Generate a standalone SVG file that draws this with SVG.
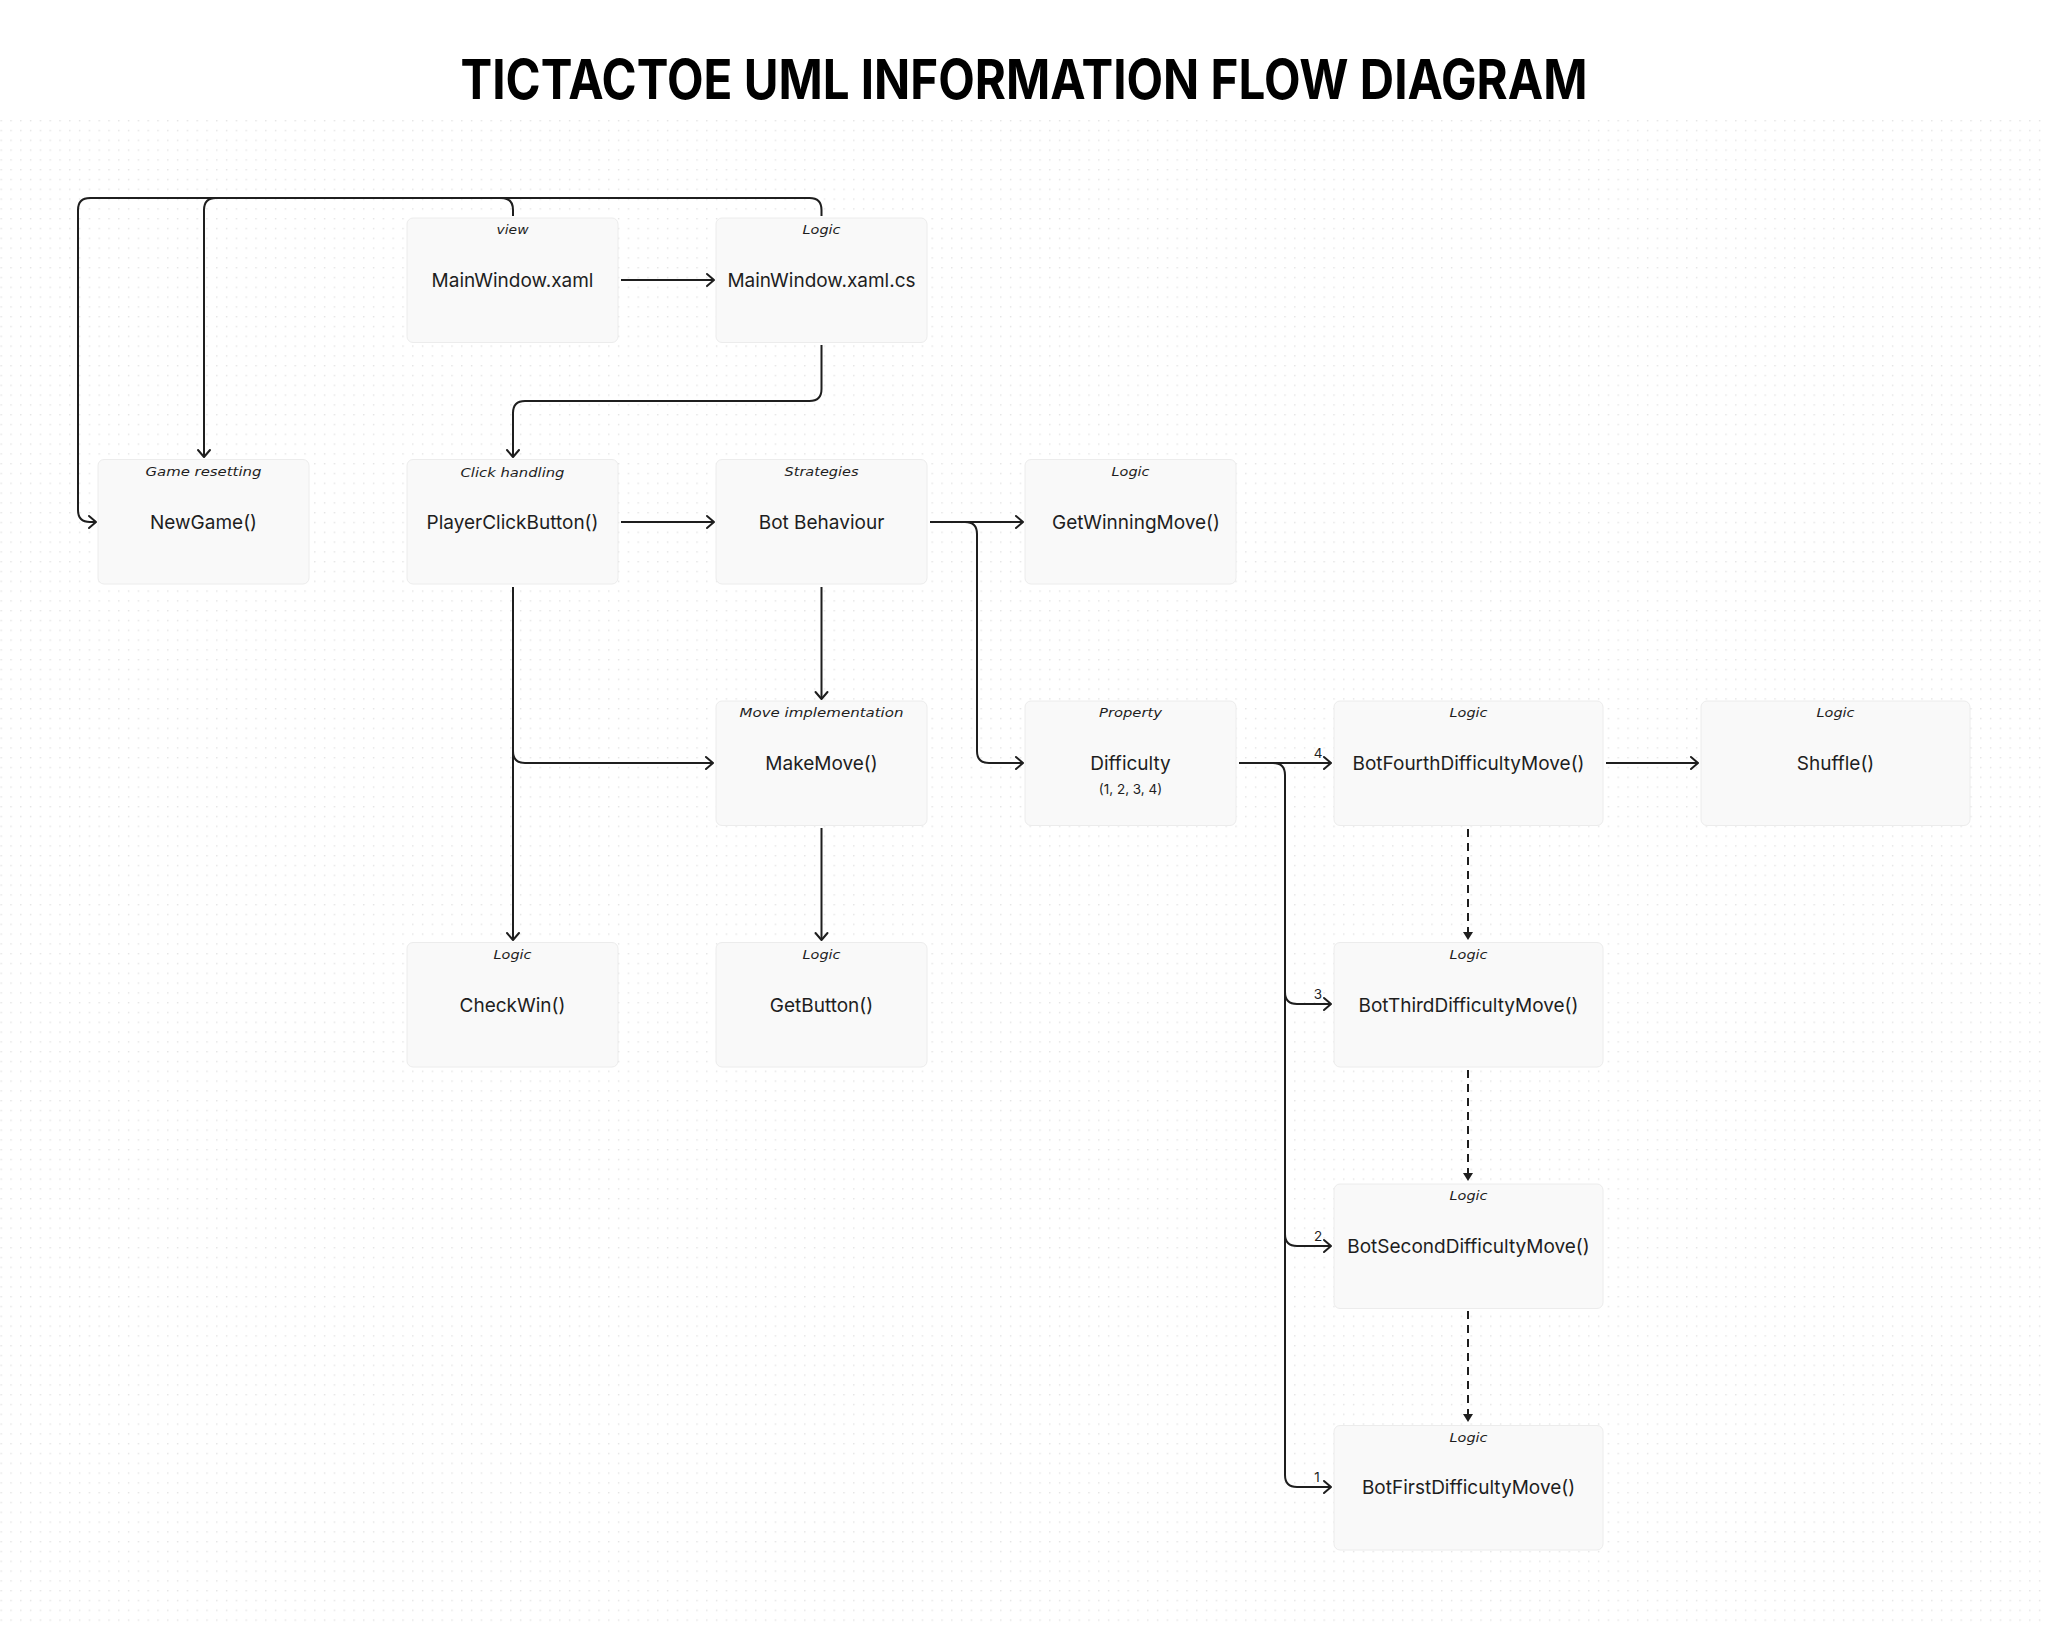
<svg xmlns="http://www.w3.org/2000/svg" width="2048" height="1628" viewBox="0 0 2048 1628">
<defs>
<pattern id="dots" x="0.5" y="120" width="9.8" height="9.8" patternUnits="userSpaceOnUse">
<rect x="0" y="0" width="1.4" height="1.4" fill="#e3e3e3"/>
</pattern>
<marker id="open" markerUnits="userSpaceOnUse" viewBox="-9 -8 11 16" refX="0" refY="0" markerWidth="11" markerHeight="16" orient="auto">
<path d="M -7 -6 L 0 0 L -7 6" fill="none" stroke="#1e1e1e" stroke-width="2" stroke-linecap="round" stroke-linejoin="round"/>
</marker>
<marker id="tri" markerUnits="userSpaceOnUse" viewBox="-9 -6 10 12" refX="0" refY="0" markerWidth="10" markerHeight="12" orient="auto">
<path d="M -8 -5 L 0 0 L -8 5 Z" fill="#1e1e1e"/>
</marker>
</defs>
<style>
.box{fill:#f9f9f9;stroke:#ececec;stroke-width:1}
.main{font-family:Inter,"Liberation Sans",sans-serif;font-size:19px;fill:#1e1e1e;text-anchor:middle}
.tag{font-family:"DejaVu Sans","Liberation Sans",sans-serif;font-style:italic;font-size:13px;fill:#1e1e1e;text-anchor:middle}
.sub{font-family:Inter,"Liberation Sans",sans-serif;font-size:13.5px;fill:#1e1e1e;text-anchor:middle}
.num{font-family:Inter,"Liberation Sans",sans-serif;font-size:13.5px;fill:#1e1e1e;text-anchor:middle}
.c{fill:none;stroke:#1e1e1e;stroke-width:2;marker-end:url(#open)}
.d{fill:none;stroke:#1e1e1e;stroke-width:2;stroke-dasharray:8 6;marker-end:url(#tri)}
</style>
<rect x="0" y="0" width="2048" height="1628" fill="#ffffff"/>
<rect x="0" y="116" width="2048" height="1512" fill="url(#dots)"/>
<text x="1024" y="99" font-family="Inter,'Liberation Sans',sans-serif" font-weight="700" font-size="55" fill="#000000" text-anchor="middle" textLength="1127" lengthAdjust="spacingAndGlyphs">TICTACTOE UML INFORMATION FLOW DIAGRAM</text>

<g id="connectors">
<path class="c" d="M 621 280 H 714"/>
<path class="c" d="M 821.5 345 V 389 Q 821.5 401 809.5 401 H 525 Q 513 401 513 413 V 457"/>
<path class="c" d="M 821.5 216 V 210 Q 821.5 198 809.5 198 H 90 Q 78 198 78 210 V 510 Q 78 522 90 522 H 96"/>
<path class="c" d="M 513 216 V 210 Q 513 198 501 198 H 216 Q 204 198 204 210 V 457"/>
<path class="c" d="M 621 522 H 714"/>
<path class="c" d="M 930 522 H 1023"/>
<path class="c" d="M 930 522 H 965 Q 977 522 977 534 V 751 Q 977 763 989 763 H 1023"/>
<path class="c" d="M 821.5 587 V 699"/>
<path class="c" d="M 513 587 V 940"/>
<path class="c" d="M 513 751 Q 513 763 525 763 H 713"/>
<path class="c" d="M 821.5 828 V 940"/>
<path class="c" d="M 1239 763 H 1331"/>
<path class="c" d="M 1239 763 H 1273 Q 1285 763 1285 775 V 992 Q 1285 1004 1297 1004 H 1331"/>
<path class="c" d="M 1285 992 V 1234 Q 1285 1246 1297 1246 H 1331"/>
<path class="c" d="M 1285 1234 V 1475 Q 1285 1487 1297 1487 H 1331"/>
<path class="c" d="M 1606 763 H 1698"/>
<path class="d" d="M 1468 829 V 940"/>
<path class="d" d="M 1468 1070 V 1181"/>
<path class="d" d="M 1468 1311 V 1422"/>
<text class="num" x="1318" y="758">4</text>
<text class="num" x="1318" y="999">3</text>
<text class="num" x="1318" y="1241">2</text>
<text class="num" x="1317" y="1482">1</text>
</g>

<g id="n-mainwindow-xaml">
<rect class="box" x="407" y="218" width="211" height="124.5" rx="6"/>
<text class="tag" x="512.5" y="234" textLength="32" lengthAdjust="spacingAndGlyphs">view</text>
<text class="main" x="512.5" y="287">MainWindow.xaml</text>
</g>
<g id="n-mainwindow-xaml-cs">
<rect class="box" x="716" y="218" width="211" height="124.5" rx="6"/>
<text class="tag" x="821.5" y="234" textLength="38" lengthAdjust="spacingAndGlyphs">Logic</text>
<text class="main" x="821.5" y="287">MainWindow.xaml.cs</text>
</g>
<g id="n-newgame">
<rect class="box" x="98" y="459.5" width="211" height="124.5" rx="6"/>
<text class="tag" x="203.5" y="475.5" textLength="116" lengthAdjust="spacingAndGlyphs">Game resetting</text>
<text class="main" x="203.5" y="529">NewGame()</text>
</g>
<g id="n-playerclickbutton">
<rect class="box" x="407" y="459.5" width="211" height="124.5" rx="6"/>
<text class="tag" x="512.5" y="477" textLength="104" lengthAdjust="spacingAndGlyphs">Click handling</text>
<text class="main" x="512.5" y="529">PlayerClickButton()</text>
</g>
<g id="n-botbehaviour">
<rect class="box" x="716" y="459.5" width="211" height="124.5" rx="6"/>
<text class="tag" x="821.5" y="475.5" textLength="74" lengthAdjust="spacingAndGlyphs">Strategies</text>
<text class="main" x="821.5" y="529">Bot Behaviour</text>
</g>
<g id="n-getwinningmove">
<rect class="box" x="1025" y="459.5" width="211" height="124.5" rx="6"/>
<text class="tag" x="1130.5" y="475.5" textLength="38" lengthAdjust="spacingAndGlyphs">Logic</text>
<text class="main" x="1136" y="529">GetWinningMove()</text>
</g>
<g id="n-makemove">
<rect class="box" x="716" y="701" width="211" height="124.5" rx="6"/>
<text class="tag" x="821.5" y="717" textLength="164" lengthAdjust="spacingAndGlyphs">Move implementation</text>
<text class="main" x="821.5" y="770">MakeMove()</text>
</g>
<g id="n-difficulty">
<rect class="box" x="1025" y="701" width="211" height="124.5" rx="6"/>
<text class="tag" x="1130.5" y="717" textLength="63" lengthAdjust="spacingAndGlyphs">Property</text>
<text class="main" x="1130.5" y="770">Difficulty</text>
<text class="sub" x="1130.5" y="794">(1, 2, 3, 4)</text>
</g>
<g id="n-botfourth">
<rect class="box" x="1334" y="701" width="269" height="124.5" rx="6"/>
<text class="tag" x="1468.5" y="717" textLength="38" lengthAdjust="spacingAndGlyphs">Logic</text>
<text class="main" x="1468.5" y="770">BotFourthDifficultyMove()</text>
</g>
<g id="n-shuffle">
<rect class="box" x="1701" y="701" width="269" height="124.5" rx="6"/>
<text class="tag" x="1835.5" y="717" textLength="38" lengthAdjust="spacingAndGlyphs">Logic</text>
<text class="main" x="1835.5" y="770">Shuffle()</text>
</g>
<g id="n-checkwin">
<rect class="box" x="407" y="942.5" width="211" height="124.5" rx="6"/>
<text class="tag" x="512.5" y="958.5" textLength="38" lengthAdjust="spacingAndGlyphs">Logic</text>
<text class="main" x="512.5" y="1011.5">CheckWin()</text>
</g>
<g id="n-getbutton">
<rect class="box" x="716" y="942.5" width="211" height="124.5" rx="6"/>
<text class="tag" x="821.5" y="958.5" textLength="38" lengthAdjust="spacingAndGlyphs">Logic</text>
<text class="main" x="821.5" y="1011.5">GetButton()</text>
</g>
<g id="n-botthird">
<rect class="box" x="1334" y="942.5" width="269" height="124.5" rx="6"/>
<text class="tag" x="1468.5" y="958.5" textLength="38" lengthAdjust="spacingAndGlyphs">Logic</text>
<text class="main" x="1468.5" y="1011.5">BotThirdDifficultyMove()</text>
</g>
<g id="n-botsecond">
<rect class="box" x="1334" y="1184" width="269" height="124.5" rx="6"/>
<text class="tag" x="1468.5" y="1200" textLength="38" lengthAdjust="spacingAndGlyphs">Logic</text>
<text class="main" x="1468.5" y="1253">BotSecondDifficultyMove()</text>
</g>
<g id="n-botfirst">
<rect class="box" x="1334" y="1425.5" width="269" height="124.5" rx="6"/>
<text class="tag" x="1468.5" y="1441.5" textLength="38" lengthAdjust="spacingAndGlyphs">Logic</text>
<text class="main" x="1468.5" y="1494">BotFirstDifficultyMove()</text>
</g>
</svg>
